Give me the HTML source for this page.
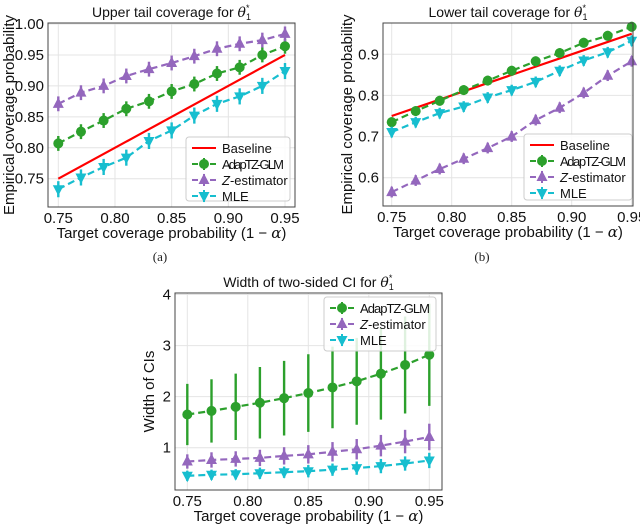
<!DOCTYPE html>
<html><head><meta charset="utf-8"><style>
body{margin:0;background:#fff;width:640px;height:525px;overflow:hidden;font-family:"Liberation Sans","DejaVu Sans",sans-serif}
svg{position:absolute;left:0;top:0}
</style></head><body>
<svg id="fig" width="640" height="525" viewBox="0 0 640 525"></svg>
<script>
const xVals=[0.75,0.77,0.79,0.81,0.83,0.85,0.87,0.89,0.91,0.93,0.95];
const xTicks=[0.75,0.80,0.85,0.90,0.95];
const aAdap=[0.807,0.826,0.844,0.863,0.875,0.891,0.903,0.920,0.930,0.950,0.964];
const aZ=[0.871,0.889,0.900,0.916,0.927,0.937,0.948,0.960,0.968,0.974,0.984];
const aMLE=[0.733,0.752,0.769,0.784,0.811,0.828,0.852,0.871,0.883,0.900,0.924];
const aYTicks=[0.75,0.80,0.85,0.90,0.95,1.00];
const bAdap=[0.735,0.762,0.787,0.813,0.836,0.860,0.883,0.903,0.928,0.945,0.967];
const bZ=[0.565,0.593,0.621,0.646,0.672,0.700,0.740,0.770,0.806,0.848,0.883];
const bMLE=[0.711,0.735,0.757,0.773,0.795,0.813,0.833,0.860,0.885,0.905,0.933];
const bYTicks=[0.6,0.7,0.8,0.9];
const cAdap=[1.65,1.72,1.80,1.88,1.97,2.07,2.18,2.30,2.45,2.62,2.82];
const cAdapErr=[0.6,0.62,0.65,0.7,0.73,0.76,0.8,0.85,0.9,0.95,1.0];
const cZ=[0.73,0.76,0.78,0.80,0.84,0.87,0.92,0.97,1.04,1.12,1.21];
const cZErr=[0.14,0.15,0.15,0.16,0.17,0.18,0.19,0.2,0.21,0.23,0.26];
const cMLE=[0.45,0.47,0.48,0.50,0.52,0.54,0.57,0.60,0.64,0.69,0.75];
const cMLEErr=[0.1,0.1,0.1,0.11,0.11,0.12,0.12,0.13,0.14,0.14,0.15];
const cYTicks=[1,2,3,4];

const NS="http://www.w3.org/2000/svg";
const svg=document.getElementById('fig');
function el(tag,attrs,parent,txt){const e=document.createElementNS(NS,tag);for(const k in attrs)e.setAttribute(k,attrs[k]);if(txt!==undefined)e.textContent=txt;(parent||svg).appendChild(e);return e;}
const GREEN='#2ca02c',PURPLE='#9467bd',CYAN='#17becf',RED='#ff0000';

function marker(g,type,x,y,c){
  let m;
  if(type==='o')m=el('circle',{cx:x,cy:y,r:5,fill:c},g);
  else if(type==='^')m=el('path',{d:`M${x},${y-6.5}L${x+5.5},${y+4}L${x-5.5},${y+4}Z`,fill:c},g);
  else m=el('path',{d:`M${x},${y+6.5}L${x+5.5},${y-4}L${x-5.5},${y-4}Z`,fill:c},g);
  
  
}

function panel(p){
  const g=el('g',{},svg);
  
  
  const X=v=>p.x0px+(v-0.75)/0.2*(p.x1px-p.x0px);
  const Y=v=>p.ypx0+(v-p.yv0)*(p.ypx1-p.ypx0)/(p.yv1-p.yv0);
  xTicks.forEach(t=>{const l=el('line',{x1:X(t),x2:X(t),y1:p.top,y2:p.bot,stroke:'#e4e4e4','stroke-width':1},g);});
  p.yTicks.forEach(t=>{const l=el('line',{x1:p.left,x2:p.right,y1:Y(t),y2:Y(t),stroke:'#e4e4e4','stroke-width':1},g);});
  p.series.forEach(s=>{
    const sg=el('g',{},g);
    
    
    if(s.err){xVals.forEach((xv,i)=>{const e=s.err[i];el('line',{x1:X(xv),x2:X(xv),y1:Y(s.vals[i]-e),y2:Y(s.vals[i]+e),stroke:s.c,'stroke-width':2.4},sg);});}
    const pts=s.vals.map((v,i)=>X(xVals[i])+','+Y(v)).join(' ');
    el('polyline',{points:pts,fill:'none',stroke:s.c,'stroke-width':2.2,'stroke-dasharray':s.m?'7,4':'none'},sg);
    if(s.m)xVals.forEach((xv,i)=>marker(sg,s.m,X(xv),Y(s.vals[i]),s.c));
  });
  const f=el('rect',{x:p.left,y:p.top,width:p.right-p.left,height:p.bot-p.top,fill:'none',stroke:'#444','stroke-width':1},g);
  
  xTicks.forEach(t=>{const tx=el('text',{x:X(t),y:p.bot+16,'text-anchor':'middle','font-size':15,fill:'#111'},g,t.toFixed(2));});
  p.yTicks.forEach(t=>{const tx=el('text',{x:p.left-4,y:Y(t)+5,'text-anchor':'end','font-size':15,fill:'#111'},g,t.toFixed(p.dec));});
  const xt=el('text',{x:(p.left+p.right)/2,y:p.bot+31,'text-anchor':'middle','font-size':15,fill:'#111'},g,'Target coverage probability (1 − ');
  el('tspan',{'font-style':'italic','font-family':'DejaVu Serif,serif'},xt,'α');el('tspan',{},xt,')');
  
  const yt=el('text',{x:0,y:0,transform:`translate(${p.ylx},${(p.top+p.bot)/2}) rotate(-90)`,'text-anchor':'middle','font-size':15,fill:'#111'},g,p.ylabel);
  
  const tt=el('text',{x:(p.left+p.right)/2,y:p.top-6,'text-anchor':'middle','font-size':14,fill:'#111'},g,p.title+' ');
  el('tspan',{'font-style':'italic','font-family':'DejaVu Serif,serif'},tt,'θ');
  el('tspan',{'font-size':9,dy:3},tt,'1');el('tspan',{'font-size':9,dy:-9,dx:-5},tt,'*');
  
  const L=p.legend;
  const lg=el('g',{},g);
  el('rect',{x:L.x,y:L.y,width:L.w,height:L.h,rx:3,fill:'#fff','fill-opacity':0.85,stroke:'#ccc'},lg);
  const entries=p.series.filter(s=>s.label);
  entries.forEach((s,i)=>{
    const yy=L.y+11+i*16;
    const eg=el('g',{},lg);
    el('line',{x1:L.x+6,x2:L.x+30,y1:yy,y2:yy,stroke:s.c,'stroke-width':2,'stroke-dasharray':s.m?'6,3':'none'},eg);
    if(s.m){marker(eg,s.m,L.x+18,yy,s.c);el('line',{x1:L.x+18,x2:L.x+18,y1:yy-6,y2:yy+6,stroke:s.c,'stroke-width':2},eg);}
    const t=el('text',{x:L.x+36,y:yy+5,'font-size':13,fill:'#111'},eg);
    if(s.key==='z'){el('tspan',{'font-style':'italic'},t,'Z');el('tspan',{},t,'-estimator');}else t.textContent=s.label;
    if(s.key==='adap')t.setAttribute('textLength',L.w-42);
  });
}

panel({name:'panel-a-upper-tail',left:48,right:295,top:23,bot:207,x0px:58.3,x1px:285,yv0:0.75,ypx0:178.7,yv1:1.0,ypx1:24,
 yTicks:aYTicks,dec:2,ylx:14,ylabel:'Empirical coverage probability',title:'Upper tail coverage for',
 legend:{x:186,y:137,w:104,h:64},
 series:[{key:'baseline',label:'Baseline',c:RED,vals:xVals},
  {key:'adap',label:'AdapTZ-GLM',c:GREEN,m:'o',vals:aAdap,err:aAdap.map(()=>0.012)},
  {key:'z',label:'Z-estimator',c:PURPLE,m:'^',vals:aZ,err:aZ.map(()=>0.012)},
  {key:'mle',label:'MLE',c:CYAN,m:'v',vals:aMLE,err:aMLE.map(()=>0.013)}]});
panel({name:'panel-b-lower-tail',left:383,right:633,top:23,bot:206,x0px:391.7,x1px:631.7,yv0:0.6,ypx0:177.7,yv1:0.9,ypx1:54.3,
 yTicks:bYTicks,dec:1,ylx:352,ylabel:'Empirical coverage probability',title:'Lower tail coverage for',
 legend:{x:524,y:134,w:108,h:66},
 series:[{key:'baseline',label:'Baseline',c:RED,vals:xVals},
  {key:'adap',label:'AdapTZ-GLM',c:GREEN,m:'o',vals:bAdap,err:bAdap.map(()=>0.012)},
  {key:'z',label:'Z-estimator',c:PURPLE,m:'^',vals:bZ,err:bZ.map(()=>0.013)},
  {key:'mle',label:'MLE',c:CYAN,m:'v',vals:bMLE,err:bMLE.map(()=>0.013)}]});
panel({name:'panel-c-width',left:175,right:442,top:293,bot:490,x0px:187.3,x1px:429.3,yv0:1,ypx0:447.7,yv1:4,ypx1:294.5,
 yTicks:cYTicks,dec:0,ylx:154,ylabel:'Width of CIs',title:'Width of two-sided CI for',
 legend:{x:324,y:297,w:112,h:54},
 series:[{key:'adap',label:'AdapTZ-GLM',c:GREEN,m:'o',vals:cAdap,err:cAdapErr},
  {key:'z',label:'Z-estimator',c:PURPLE,m:'^',vals:cZ,err:cZErr},
  {key:'mle',label:'MLE',c:CYAN,m:'v',vals:cMLE,err:cMLEErr}]});

const ca=el('text',{x:160,y:261,'text-anchor':'middle','font-size':13,'font-family':'Liberation Serif,serif',fill:'#222'},svg,'(a)');

const cb=el('text',{x:482,y:261,'text-anchor':'middle','font-size':13,'font-family':'Liberation Serif,serif',fill:'#222'},svg,'(b)');

</script>
</body></html>
